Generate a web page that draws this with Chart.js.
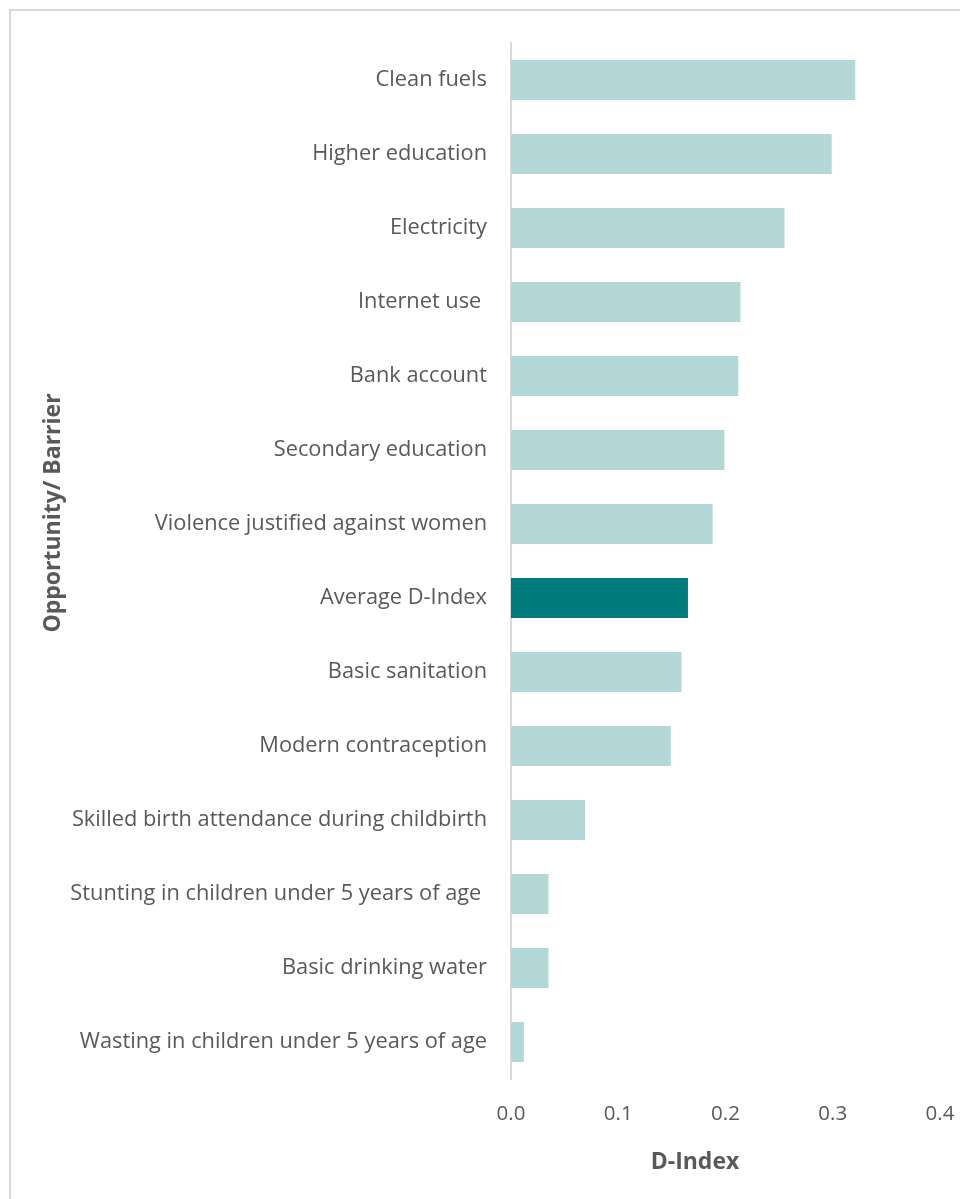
<!DOCTYPE html>
<html>
<head>
<meta charset="utf-8">
<script src="https://cdn.jsdelivr.net/npm/chart.js@4/dist/chart.umd.min.js"></script>
<style>
  html, body { margin: 0; padding: 0; background: #fff; overflow: hidden; }
  #wrap { position: relative; width: 960px; height: 1199px; }
  #frame { position: absolute; left: 9px; top: 9px; width: 1100px; height: 1300px;
           border-top: 2px solid #d9d9d9; border-left: 2px solid #d9d9d9; }
  canvas { position: absolute; left: 0; top: 0; }
</style>
</head>
<body>
<div id="wrap">
  <div id="frame"></div>
  <canvas id="dindexChart" width="960" height="1199"></canvas>
</div>
<script>
const categories = [
    'Clean fuels',
    'Higher education',
    'Electricity',
    'Internet use ',
    'Bank account',
    'Secondary education',
    'Violence justified against women',
    'Average D-Index',
    'Basic sanitation',
    'Modern contraception',
    'Skilled birth attendance during childbirth',
    'Stunting in children under 5 years of age ',
    'Basic drinking water',
    'Wasting in children under 5 years of age',
];
const dIndex = [0.321, 0.299, 0.255, 0.214, 0.212, 0.199, 0.188, 0.165, 0.159, 0.149, 0.069, 0.035, 0.035, 0.012];
const xTicks = [0, 0.1, 0.2, 0.3, 0.4];

const light = '#b4d8d8';
const dark = '#007b7b';
const textColor = '#595959';
const font = '"Open Sans", Lato, sans-serif';

// axis titles sit off-centre in the original, so draw them by hand
const axisTitles = {
    id: 'axisTitles',
    afterDraw(chart) {
        const { ctx, chartArea } = chart;
        ctx.save();
        ctx.fillStyle = textColor;
        ctx.font = 'bold 23px ' + font;
        ctx.textAlign = 'center';
        ctx.textBaseline = 'middle';
        ctx.fillText('D-Index', chartArea.left + 184, 1162);
        ctx.translate(53, chartArea.top + 470);
        ctx.rotate(-Math.PI / 2);
        ctx.fillText('Opportunity/ Barrier', 0, 0);
        ctx.restore();
    },
};

new Chart(document.getElementById('dindexChart'), {
    type: 'bar',
    data: {
        labels: categories,
        datasets: [{
            data: dIndex,
            backgroundColor: categories.map(c => c === 'Average D-Index' ? dark : light),
            borderWidth: 0,
            categoryPercentage: 1,
            barPercentage: 0.54,
        }],
    },
    options: {
        indexAxis: 'y',
        responsive: false,
        animation: false,
        layout: { padding: { top: 43, right: 0, bottom: 0, left: 0 } },
        plugins: { legend: { display: false }, tooltip: { enabled: false } },
        scales: {
            x: {
                min: 0,
                max: 0.4,
                afterBuildTicks: s => { s.ticks = xTicks.map(v => ({ value: v })); },
                afterFit: s => { s.height = 120; s.paddingRight = 20; },
                grid: { display: false },
                border: { display: false },
                ticks: {
                    padding: 15,
                    color: textColor,
                    font: { family: font, size: 20.5 },
                    callback: v => Number(v).toFixed(1),
                },
            },
            y: {
                afterFit: s => { s.width = 511; },
                grid: { display: false },
                border: { display: true, color: '#d9d9d9', width: 2 },
                ticks: {
                    padding: 16,
                    color: textColor,
                    font: { family: font, size: 21.8 },
                },
            },
        },
    },
    plugins: [axisTitles],
});
</script>
</body>
</html>
